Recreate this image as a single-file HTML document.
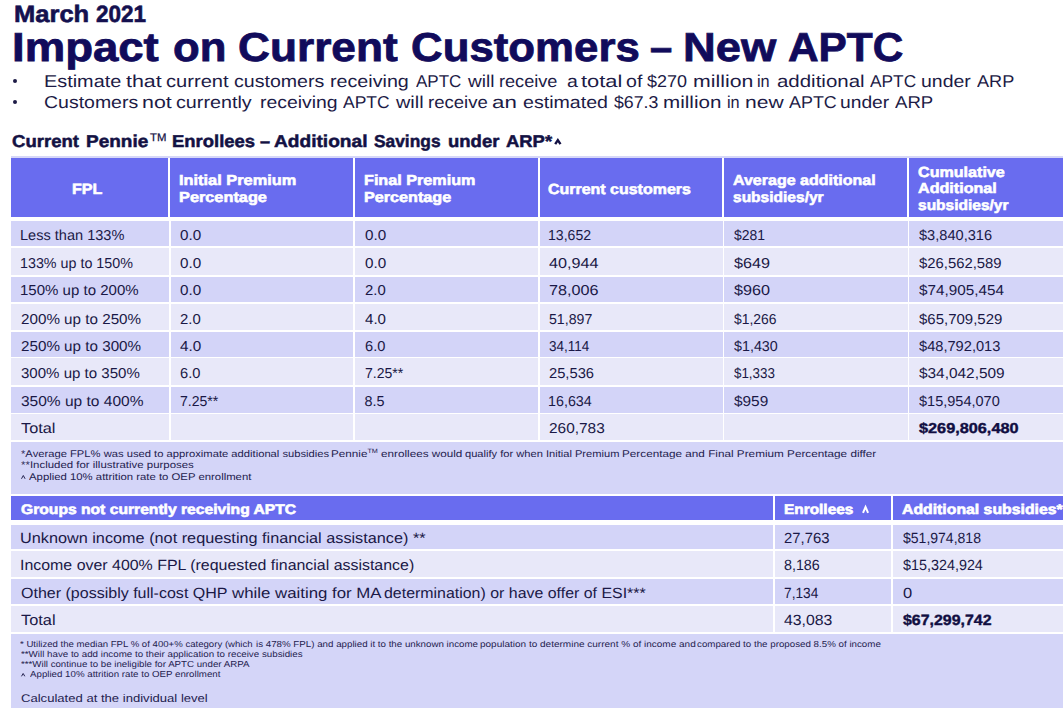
<!DOCTYPE html>
<html><head><meta charset="utf-8"><title>Impact on Current Customers - New APTC</title>
<style>
html,body{margin:0;padding:0;background:#fff;}
body{width:1063px;height:708px;position:relative;overflow:hidden;font-family:"Liberation Sans",sans-serif;}
.r{position:absolute;}
.t{position:absolute;white-space:nowrap;transform-origin:0 0;text-rendering:geometricPrecision;}
sup{font-size:62%;vertical-align:0;position:relative;top:-0.55em;}
.dot{position:absolute;border-radius:50%;}
</style></head><body>

<div class="r" style="left:11.00px;top:155.80px;width:1052.00px;height:2.20px;background:#d6d7f8"></div>
<div class="r" style="left:11.00px;top:158.00px;width:157.30px;height:58.50px;background:#696cef"></div>
<div class="r" style="left:170.20px;top:158.00px;width:182.70px;height:58.50px;background:#696cef"></div>
<div class="r" style="left:355.00px;top:158.00px;width:182.90px;height:58.50px;background:#696cef"></div>
<div class="r" style="left:539.80px;top:158.00px;width:182.20px;height:58.50px;background:#696cef"></div>
<div class="r" style="left:724.20px;top:158.00px;width:182.80px;height:58.50px;background:#696cef"></div>
<div class="r" style="left:909.20px;top:158.00px;width:153.80px;height:58.50px;background:#696cef"></div>
<div class="r" style="left:11.00px;top:221.10px;width:158.20px;height:25.00px;background:#d3d4f8"></div>
<div class="r" style="left:170.60px;top:221.10px;width:182.80px;height:25.00px;background:#d3d4f8"></div>
<div class="r" style="left:354.80px;top:221.10px;width:183.60px;height:25.00px;background:#d3d4f8"></div>
<div class="r" style="left:539.60px;top:221.10px;width:183.00px;height:25.00px;background:#d3d4f8"></div>
<div class="r" style="left:724.00px;top:221.10px;width:183.60px;height:25.00px;background:#d3d4f8"></div>
<div class="r" style="left:909.00px;top:221.10px;width:154.00px;height:25.00px;background:#d3d4f8"></div>
<div class="r" style="left:11.00px;top:247.75px;width:158.20px;height:27.05px;background:#e8e8f9"></div>
<div class="r" style="left:170.60px;top:247.75px;width:182.80px;height:27.05px;background:#e8e8f9"></div>
<div class="r" style="left:354.80px;top:247.75px;width:183.60px;height:27.05px;background:#e8e8f9"></div>
<div class="r" style="left:539.60px;top:247.75px;width:183.00px;height:27.05px;background:#e8e8f9"></div>
<div class="r" style="left:724.00px;top:247.75px;width:183.60px;height:27.05px;background:#e8e8f9"></div>
<div class="r" style="left:909.00px;top:247.75px;width:154.00px;height:27.05px;background:#e8e8f9"></div>
<div class="r" style="left:11.00px;top:277.10px;width:158.20px;height:24.60px;background:#d3d4f8"></div>
<div class="r" style="left:170.60px;top:277.10px;width:182.80px;height:24.60px;background:#d3d4f8"></div>
<div class="r" style="left:354.80px;top:277.10px;width:183.60px;height:24.60px;background:#d3d4f8"></div>
<div class="r" style="left:539.60px;top:277.10px;width:183.00px;height:24.60px;background:#d3d4f8"></div>
<div class="r" style="left:724.00px;top:277.10px;width:183.60px;height:24.60px;background:#d3d4f8"></div>
<div class="r" style="left:909.00px;top:277.10px;width:154.00px;height:24.60px;background:#d3d4f8"></div>
<div class="r" style="left:11.00px;top:303.75px;width:158.20px;height:26.35px;background:#e8e8f9"></div>
<div class="r" style="left:170.60px;top:303.75px;width:182.80px;height:26.35px;background:#e8e8f9"></div>
<div class="r" style="left:354.80px;top:303.75px;width:183.60px;height:26.35px;background:#e8e8f9"></div>
<div class="r" style="left:539.60px;top:303.75px;width:183.00px;height:26.35px;background:#e8e8f9"></div>
<div class="r" style="left:724.00px;top:303.75px;width:183.60px;height:26.35px;background:#e8e8f9"></div>
<div class="r" style="left:909.00px;top:303.75px;width:154.00px;height:26.35px;background:#e8e8f9"></div>
<div class="r" style="left:11.00px;top:332.30px;width:158.20px;height:24.45px;background:#d3d4f8"></div>
<div class="r" style="left:170.60px;top:332.30px;width:182.80px;height:24.45px;background:#d3d4f8"></div>
<div class="r" style="left:354.80px;top:332.30px;width:183.60px;height:24.45px;background:#d3d4f8"></div>
<div class="r" style="left:539.60px;top:332.30px;width:183.00px;height:24.45px;background:#d3d4f8"></div>
<div class="r" style="left:724.00px;top:332.30px;width:183.60px;height:24.45px;background:#d3d4f8"></div>
<div class="r" style="left:909.00px;top:332.30px;width:154.00px;height:24.45px;background:#d3d4f8"></div>
<div class="r" style="left:11.00px;top:358.40px;width:158.20px;height:26.50px;background:#e8e8f9"></div>
<div class="r" style="left:170.60px;top:358.40px;width:182.80px;height:26.50px;background:#e8e8f9"></div>
<div class="r" style="left:354.80px;top:358.40px;width:183.60px;height:26.50px;background:#e8e8f9"></div>
<div class="r" style="left:539.60px;top:358.40px;width:183.00px;height:26.50px;background:#e8e8f9"></div>
<div class="r" style="left:724.00px;top:358.40px;width:183.60px;height:26.50px;background:#e8e8f9"></div>
<div class="r" style="left:909.00px;top:358.40px;width:154.00px;height:26.50px;background:#e8e8f9"></div>
<div class="r" style="left:11.00px;top:387.00px;width:158.20px;height:25.80px;background:#d3d4f8"></div>
<div class="r" style="left:170.60px;top:387.00px;width:182.80px;height:25.80px;background:#d3d4f8"></div>
<div class="r" style="left:354.80px;top:387.00px;width:183.60px;height:25.80px;background:#d3d4f8"></div>
<div class="r" style="left:539.60px;top:387.00px;width:183.00px;height:25.80px;background:#d3d4f8"></div>
<div class="r" style="left:724.00px;top:387.00px;width:183.60px;height:25.80px;background:#d3d4f8"></div>
<div class="r" style="left:909.00px;top:387.00px;width:154.00px;height:25.80px;background:#d3d4f8"></div>
<div class="r" style="left:11.00px;top:414.10px;width:158.20px;height:26.30px;background:#e8e8f9"></div>
<div class="r" style="left:170.60px;top:414.10px;width:182.80px;height:26.30px;background:#e8e8f9"></div>
<div class="r" style="left:354.80px;top:414.10px;width:183.60px;height:26.30px;background:#e8e8f9"></div>
<div class="r" style="left:539.60px;top:414.10px;width:183.00px;height:26.30px;background:#e8e8f9"></div>
<div class="r" style="left:724.00px;top:414.10px;width:183.60px;height:26.30px;background:#e8e8f9"></div>
<div class="r" style="left:909.00px;top:414.10px;width:154.00px;height:26.30px;background:#e8e8f9"></div>
<div class="r" style="left:11.00px;top:442.10px;width:1052.00px;height:51.60px;background:#d4d5f8"></div>
<div class="r" style="left:11.00px;top:495.50px;width:761.50px;height:24.00px;background:#696cef"></div>
<div class="r" style="left:775.00px;top:495.50px;width:115.80px;height:24.00px;background:#696cef"></div>
<div class="r" style="left:893.30px;top:495.50px;width:169.70px;height:24.00px;background:#696cef"></div>
<div class="r" style="left:11.00px;top:524.70px;width:762.00px;height:24.80px;background:#d3d4f8"></div>
<div class="r" style="left:774.60px;top:524.70px;width:116.90px;height:24.80px;background:#d3d4f8"></div>
<div class="r" style="left:893.00px;top:524.70px;width:170.00px;height:24.80px;background:#d3d4f8"></div>
<div class="r" style="left:11.00px;top:551.00px;width:762.00px;height:26.00px;background:#e8e8f9"></div>
<div class="r" style="left:774.60px;top:551.00px;width:116.90px;height:26.00px;background:#e8e8f9"></div>
<div class="r" style="left:893.00px;top:551.00px;width:170.00px;height:26.00px;background:#e8e8f9"></div>
<div class="r" style="left:11.00px;top:579.10px;width:762.00px;height:25.20px;background:#d3d4f8"></div>
<div class="r" style="left:774.60px;top:579.10px;width:116.90px;height:25.20px;background:#d3d4f8"></div>
<div class="r" style="left:893.00px;top:579.10px;width:170.00px;height:25.20px;background:#d3d4f8"></div>
<div class="r" style="left:11.00px;top:606.00px;width:762.00px;height:26.25px;background:#e8e8f9"></div>
<div class="r" style="left:774.60px;top:606.00px;width:116.90px;height:26.25px;background:#e8e8f9"></div>
<div class="r" style="left:893.00px;top:606.00px;width:170.00px;height:26.25px;background:#e8e8f9"></div>
<div class="r" style="left:11.00px;top:634.20px;width:1052.00px;height:73.80px;background:#d4d5f8"></div>
<div class="dot" style="left:12.80px;top:78.60px;width:4.4px;height:4.4px;background:#1d1b46"></div>
<div class="dot" style="left:12.80px;top:99.70px;width:4.4px;height:4.4px;background:#1d1b46"></div>
<svg class="r" style="left:553.90px;top:139.00px;width:7.70px;height:5.20px;overflow:visible" viewBox="0 0 7.70 5.20"><polyline points="1.20,5.20 3.85,1.20 6.50,5.20" fill="none" stroke="#131143" stroke-width="2.40" stroke-linejoin="miter"/></svg>
<svg class="r" style="left:862.30px;top:506.00px;width:7.10px;height:6.80px;overflow:visible" viewBox="0 0 7.10 6.80"><polyline points="1.00,6.80 3.55,1.00 6.10,6.80" fill="none" stroke="#ffffff" stroke-width="2.00" stroke-linejoin="miter"/></svg>
<svg class="r" style="left:20.90px;top:474.60px;width:4.60px;height:3.80px;overflow:visible" viewBox="0 0 4.60 3.80"><polyline points="0.50,3.80 2.30,0.50 4.10,3.80" fill="none" stroke="#24224f" stroke-width="1.00" stroke-linejoin="miter"/></svg>
<svg class="r" style="left:20.80px;top:672.90px;width:4.30px;height:3.30px;overflow:visible" viewBox="0 0 4.30 3.30"><polyline points="0.50,3.30 2.15,0.50 3.80,3.30" fill="none" stroke="#24224f" stroke-width="1.00" stroke-linejoin="miter"/></svg>
<div class="t" id="march_0" style="left:14.09px;top:3.94px;font-size:23.69px;line-height:23.69px;color:#14104f;font-weight:bold;-webkit-text-stroke:0.60px #14104f;transform:scaleX(1.0779);">March</div>
<div class="t" id="march_1" style="left:95.83px;top:3.94px;font-size:23.69px;line-height:23.69px;color:#14104f;font-weight:bold;-webkit-text-stroke:0.60px #14104f;transform:scaleX(0.9500);">2021</div>
<div class="t" id="title_0" style="left:12.47px;top:27.00px;font-size:40.41px;line-height:40.41px;color:#110b5b;font-weight:bold;-webkit-text-stroke:0.80px #110b5b;transform:scaleX(1.1270);">Impact</div>
<div class="t" id="title_1" style="left:172.75px;top:27.00px;font-size:40.41px;line-height:40.41px;color:#110b5b;font-weight:bold;-webkit-text-stroke:0.80px #110b5b;transform:scaleX(1.0809);">on</div>
<div class="t" id="title_2" style="left:237.70px;top:27.00px;font-size:40.41px;line-height:40.41px;color:#110b5b;font-weight:bold;-webkit-text-stroke:0.80px #110b5b;transform:scaleX(1.0945);">Current</div>
<div class="t" id="title_3" style="left:411.33px;top:27.00px;font-size:40.41px;line-height:40.41px;color:#110b5b;font-weight:bold;-webkit-text-stroke:0.80px #110b5b;transform:scaleX(1.0842);">Customers</div>
<div class="t" id="title_4" style="left:650.01px;top:27.00px;font-size:40.41px;line-height:40.41px;color:#110b5b;font-weight:bold;-webkit-text-stroke:0.80px #110b5b;transform:scaleX(0.9881);">&ndash;</div>
<div class="t" id="title_5" style="left:683.18px;top:27.00px;font-size:40.41px;line-height:40.41px;color:#110b5b;font-weight:bold;-webkit-text-stroke:0.80px #110b5b;transform:scaleX(1.1220);">New</div>
<div class="t" id="title_6" style="left:788.18px;top:27.00px;font-size:40.41px;line-height:40.41px;color:#110b5b;font-weight:bold;-webkit-text-stroke:0.80px #110b5b;transform:scaleX(1.0486);">APTC</div>
<div class="t" id="b1_0" style="left:43.76px;top:73.28px;font-size:17.15px;line-height:17.15px;color:#1d1b46;transform:scaleX(1.1585);">Estimate</div>
<div class="t" id="b1_1" style="left:125.65px;top:73.28px;font-size:17.15px;line-height:17.15px;color:#1d1b46;transform:scaleX(1.2500);">that</div>
<div class="t" id="b1_2" style="left:165.83px;top:73.28px;font-size:17.15px;line-height:17.15px;color:#1d1b46;transform:scaleX(1.1736);">current</div>
<div class="t" id="b1_3" style="left:233.86px;top:73.28px;font-size:17.15px;line-height:17.15px;color:#1d1b46;transform:scaleX(1.1423);">customers</div>
<div class="t" id="b1_4" style="left:330.31px;top:73.28px;font-size:17.15px;line-height:17.15px;color:#1d1b46;transform:scaleX(1.1485);">receiving</div>
<div class="t" id="b1_5" style="left:416.20px;top:73.28px;font-size:17.15px;line-height:17.15px;color:#1d1b46;transform:scaleX(0.9935);">APTC</div>
<div class="t" id="b1_6" style="left:468.27px;top:73.28px;font-size:17.15px;line-height:17.15px;color:#1d1b46;transform:scaleX(1.1125);">will</div>
<div class="t" id="b1_7" style="left:499.33px;top:73.28px;font-size:17.15px;line-height:17.15px;color:#1d1b46;transform:scaleX(1.0574);">receive</div>
<div class="t" id="b1_8" style="left:567.03px;top:73.28px;font-size:17.15px;line-height:17.15px;color:#1d1b46;transform:scaleX(1.1366);">a</div>
<div class="t" id="b1_9" style="left:580.54px;top:73.28px;font-size:17.15px;line-height:17.15px;color:#1d1b46;transform:scaleX(1.2781);">total</div>
<div class="t" id="b1_10" style="left:625.93px;top:73.28px;font-size:17.15px;line-height:17.15px;color:#1d1b46;transform:scaleX(1.1429);">of</div>
<div class="t" id="b1_11" style="left:647.21px;top:73.28px;font-size:17.15px;line-height:17.15px;color:#1d1b46;transform:scaleX(1.0500);">$270</div>
<div class="t" id="b1_12" style="left:692.65px;top:73.28px;font-size:17.15px;line-height:17.15px;color:#1d1b46;transform:scaleX(1.2426);">million</div>
<div class="t" id="b1_13" style="left:757.25px;top:73.28px;font-size:17.15px;line-height:17.15px;color:#1d1b46;transform:scaleX(0.9500);">in</div>
<div class="t" id="b1_14" style="left:777.12px;top:73.28px;font-size:17.15px;line-height:17.15px;color:#1d1b46;transform:scaleX(1.1931);">additional</div>
<div class="t" id="b1_15" style="left:870.21px;top:73.28px;font-size:17.15px;line-height:17.15px;color:#1d1b46;transform:scaleX(1.0087);">APTC</div>
<div class="t" id="b1_16" style="left:920.65px;top:73.28px;font-size:17.15px;line-height:17.15px;color:#1d1b46;transform:scaleX(1.1349);">under</div>
<div class="t" id="b1_17" style="left:976.51px;top:73.28px;font-size:17.15px;line-height:17.15px;color:#1d1b46;transform:scaleX(1.0586);">ARP</div>
<div class="t" id="b2_0" style="left:44.15px;top:94.38px;font-size:17.15px;line-height:17.15px;color:#1d1b46;transform:scaleX(1.1366);">Customers</div>
<div class="t" id="b2_1" style="left:141.53px;top:94.38px;font-size:17.15px;line-height:17.15px;color:#1d1b46;transform:scaleX(1.2478);">not</div>
<div class="t" id="b2_2" style="left:176.28px;top:94.38px;font-size:17.15px;line-height:17.15px;color:#1d1b46;transform:scaleX(1.1508);">currently</div>
<div class="t" id="b2_3" style="left:260.15px;top:94.38px;font-size:17.15px;line-height:17.15px;color:#1d1b46;transform:scaleX(1.1309);">receiving</div>
<div class="t" id="b2_4" style="left:343.20px;top:94.38px;font-size:17.15px;line-height:17.15px;color:#1d1b46;transform:scaleX(1.0200);">APTC</div>
<div class="t" id="b2_5" style="left:395.54px;top:94.38px;font-size:17.15px;line-height:17.15px;color:#1d1b46;transform:scaleX(1.1587);">will</div>
<div class="t" id="b2_6" style="left:427.54px;top:94.38px;font-size:17.15px;line-height:17.15px;color:#1d1b46;transform:scaleX(1.0815);">receive</div>
<div class="t" id="b2_7" style="left:491.70px;top:94.38px;font-size:17.15px;line-height:17.15px;color:#1d1b46;transform:scaleX(1.3000);">an</div>
<div class="t" id="b2_8" style="left:522.93px;top:94.38px;font-size:17.15px;line-height:17.15px;color:#1d1b46;transform:scaleX(1.1438);">estimated</div>
<div class="t" id="b2_9" style="left:613.61px;top:94.38px;font-size:17.15px;line-height:17.15px;color:#1d1b46;transform:scaleX(1.0349);">$67.3</div>
<div class="t" id="b2_10" style="left:663.12px;top:94.38px;font-size:17.15px;line-height:17.15px;color:#1d1b46;transform:scaleX(1.2021);">million</div>
<div class="t" id="b2_11" style="left:727.44px;top:94.38px;font-size:17.15px;line-height:17.15px;color:#1d1b46;transform:scaleX(0.9500);">in</div>
<div class="t" id="b2_12" style="left:744.66px;top:94.38px;font-size:17.15px;line-height:17.15px;color:#1d1b46;transform:scaleX(1.2290);">new</div>
<div class="t" id="b2_13" style="left:789.00px;top:94.38px;font-size:17.15px;line-height:17.15px;color:#1d1b46;transform:scaleX(1.0444);">APTC</div>
<div class="t" id="b2_14" style="left:840.09px;top:94.38px;font-size:17.15px;line-height:17.15px;color:#1d1b46;transform:scaleX(1.1233);">under</div>
<div class="t" id="b2_15" style="left:895.37px;top:94.38px;font-size:17.15px;line-height:17.15px;color:#1d1b46;transform:scaleX(1.0853);">ARP</div>
<div class="t" id="sub_0" style="left:12.17px;top:133.28px;font-size:17.15px;line-height:17.15px;color:#131143;font-weight:bold;-webkit-text-stroke:0.50px #131143;transform:scaleX(1.0815);">Current</div>
<div class="t" id="sub_1" style="left:86.37px;top:133.28px;font-size:17.15px;line-height:17.15px;color:#131143;font-weight:bold;-webkit-text-stroke:0.50px #131143;transform:scaleX(1.1071);">Pennie</div>
<div class="t" id="sub_2" style="left:172.34px;top:133.28px;font-size:17.15px;line-height:17.15px;color:#131143;font-weight:bold;-webkit-text-stroke:0.50px #131143;transform:scaleX(1.0763);">Enrollees</div>
<div class="t" id="sub_3" style="left:259.97px;top:133.28px;font-size:17.15px;line-height:17.15px;color:#131143;font-weight:bold;-webkit-text-stroke:0.50px #131143;transform:scaleX(1.0556);">&ndash;</div>
<div class="t" id="sub_4" style="left:274.21px;top:133.28px;font-size:17.15px;line-height:17.15px;color:#131143;font-weight:bold;-webkit-text-stroke:0.50px #131143;transform:scaleX(1.1157);">Additional</div>
<div class="t" id="sub_5" style="left:374.20px;top:133.28px;font-size:17.15px;line-height:17.15px;color:#131143;font-weight:bold;-webkit-text-stroke:0.50px #131143;transform:scaleX(1.0121);">Savings</div>
<div class="t" id="sub_6" style="left:447.58px;top:133.28px;font-size:17.15px;line-height:17.15px;color:#131143;font-weight:bold;-webkit-text-stroke:0.50px #131143;transform:scaleX(1.0792);">under</div>
<div class="t" id="sub_7" style="left:505.76px;top:133.28px;font-size:17.15px;line-height:17.15px;color:#131143;font-weight:bold;-webkit-text-stroke:0.50px #131143;transform:scaleX(1.0744);">ARP*</div>
<div class="t" id="sub_tm" style="left:150.00px;top:133.35px;font-size:11.05px;line-height:11.05px;color:#131143;-webkit-text-stroke:0.25px #131143;transform:scaleX(1.0250);">TM</div>
<div class="t" id="h_fpl" style="left:72.39px;top:182.65px;font-size:14.83px;line-height:14.83px;color:#ffffff;font-weight:bold;-webkit-text-stroke:0.55px #ffffff;transform:scaleX(1.0865);">FPL</div>
<div class="t" id="h_ip1" style="left:178.60px;top:174.10px;font-size:14.53px;line-height:14.53px;color:#ffffff;font-weight:bold;-webkit-text-stroke:0.55px #ffffff;transform:scaleX(1.1275);">Initial Premium</div>
<div class="t" id="h_ip2" style="left:178.60px;top:191.20px;font-size:14.53px;line-height:14.53px;color:#ffffff;font-weight:bold;-webkit-text-stroke:0.55px #ffffff;transform:scaleX(1.1237);">Percentage</div>
<div class="t" id="h_fp1" style="left:363.89px;top:174.10px;font-size:14.53px;line-height:14.53px;color:#ffffff;font-weight:bold;-webkit-text-stroke:0.55px #ffffff;transform:scaleX(1.1143);">Final Premium</div>
<div class="t" id="h_fp2" style="left:363.89px;top:191.20px;font-size:14.53px;line-height:14.53px;color:#ffffff;font-weight:bold;-webkit-text-stroke:0.55px #ffffff;transform:scaleX(1.1143);">Percentage</div>
<div class="t" id="h_cc" style="left:548.32px;top:183.45px;font-size:14.53px;line-height:14.53px;color:#ffffff;font-weight:bold;-webkit-text-stroke:0.55px #ffffff;transform:scaleX(1.1000);">Current customers</div>
<div class="t" id="h_aa1" style="left:733.32px;top:174.10px;font-size:14.53px;line-height:14.53px;color:#ffffff;font-weight:bold;-webkit-text-stroke:0.55px #ffffff;transform:scaleX(1.1031);">Average additional</div>
<div class="t" id="h_aa2" style="left:733.34px;top:191.20px;font-size:14.53px;line-height:14.53px;color:#ffffff;font-weight:bold;-webkit-text-stroke:0.55px #ffffff;transform:scaleX(1.0699);">subsidies/yr</div>
<div class="t" id="h_ca1" style="left:918.31px;top:166.40px;font-size:14.53px;line-height:14.53px;color:#ffffff;font-weight:bold;-webkit-text-stroke:0.55px #ffffff;transform:scaleX(1.1091);">Cumulative</div>
<div class="t" id="h_ca2" style="left:918.31px;top:182.00px;font-size:14.53px;line-height:14.53px;color:#ffffff;font-weight:bold;-webkit-text-stroke:0.55px #ffffff;transform:scaleX(1.1101);">Additional</div>
<div class="t" id="h_ca3" style="left:918.35px;top:198.70px;font-size:14.53px;line-height:14.53px;color:#ffffff;font-weight:bold;-webkit-text-stroke:0.55px #ffffff;transform:scaleX(1.0687);">subsidies/yr</div>
<div class="t" id="r0_0" style="left:20.38px;top:229.47px;font-size:14.39px;line-height:14.39px;color:#1a1846;transform:scaleX(1.0127);">Less than 133%</div>
<div class="t" id="r0_1" style="left:179.59px;top:229.47px;font-size:14.39px;line-height:14.39px;color:#1a1846;transform:scaleX(1.0575);">0.0</div>
<div class="t" id="r0_2" style="left:364.59px;top:229.47px;font-size:14.39px;line-height:14.39px;color:#1a1846;transform:scaleX(1.0600);">0.0</div>
<div class="t" id="r0_3" style="left:547.62px;top:229.47px;font-size:14.39px;line-height:14.39px;color:#1a1846;transform:scaleX(0.9810);">13,652</div>
<div class="t" id="r0_4" style="left:734.01px;top:229.47px;font-size:14.39px;line-height:14.39px;color:#1a1846;transform:scaleX(0.9710);">$281</div>
<div class="t" id="r0_5" style="left:918.80px;top:229.47px;font-size:14.39px;line-height:14.39px;color:#1a1846;transform:scaleX(1.0155);">$3,840,316</div>
<div class="t" id="r1_0" style="left:20.41px;top:256.62px;font-size:14.39px;line-height:14.39px;color:#1a1846;transform:scaleX(0.9946);">133% up to 150%</div>
<div class="t" id="r1_1" style="left:179.59px;top:256.62px;font-size:14.39px;line-height:14.39px;color:#1a1846;transform:scaleX(1.0575);">0.0</div>
<div class="t" id="r1_2" style="left:364.59px;top:256.62px;font-size:14.39px;line-height:14.39px;color:#1a1846;transform:scaleX(1.0600);">0.0</div>
<div class="t" id="r1_3" style="left:548.57px;top:256.62px;font-size:14.39px;line-height:14.39px;color:#1a1846;transform:scaleX(1.1273);">40,944</div>
<div class="t" id="r1_4" style="left:733.94px;top:256.62px;font-size:14.39px;line-height:14.39px;color:#1a1846;transform:scaleX(1.1258);">$649</div>
<div class="t" id="r1_5" style="left:918.80px;top:256.62px;font-size:14.39px;line-height:14.39px;color:#1a1846;transform:scaleX(1.0329);">$26,562,589</div>
<div class="t" id="r2_0" style="left:20.34px;top:284.22px;font-size:14.39px;line-height:14.39px;color:#1a1846;transform:scaleX(1.0451);">150% up to 200%</div>
<div class="t" id="r2_1" style="left:179.59px;top:284.22px;font-size:14.39px;line-height:14.39px;color:#1a1846;transform:scaleX(1.0575);">0.0</div>
<div class="t" id="r2_2" style="left:364.59px;top:284.22px;font-size:14.39px;line-height:14.39px;color:#1a1846;transform:scaleX(1.0350);">2.0</div>
<div class="t" id="r2_3" style="left:548.57px;top:284.22px;font-size:14.39px;line-height:14.39px;color:#1a1846;transform:scaleX(1.1256);">78,006</div>
<div class="t" id="r2_4" style="left:733.94px;top:284.22px;font-size:14.39px;line-height:14.39px;color:#1a1846;transform:scaleX(1.1258);">$960</div>
<div class="t" id="r2_5" style="left:918.79px;top:284.22px;font-size:14.39px;line-height:14.39px;color:#1a1846;transform:scaleX(1.0619);">$74,905,454</div>
<div class="t" id="r3_0" style="left:21.38px;top:312.52px;font-size:14.39px;line-height:14.39px;color:#1a1846;transform:scaleX(1.0580);">200% up to 250%</div>
<div class="t" id="r3_1" style="left:179.59px;top:312.52px;font-size:14.39px;line-height:14.39px;color:#1a1846;transform:scaleX(1.0350);">2.0</div>
<div class="t" id="r3_2" style="left:364.59px;top:312.52px;font-size:14.39px;line-height:14.39px;color:#1a1846;transform:scaleX(1.0500);">4.0</div>
<div class="t" id="r3_3" style="left:548.60px;top:312.52px;font-size:14.39px;line-height:14.39px;color:#1a1846;transform:scaleX(0.9837);">51,897</div>
<div class="t" id="r3_4" style="left:734.02px;top:312.52px;font-size:14.39px;line-height:14.39px;color:#1a1846;transform:scaleX(0.9686);">$1,266</div>
<div class="t" id="r3_5" style="left:918.80px;top:312.52px;font-size:14.39px;line-height:14.39px;color:#1a1846;transform:scaleX(1.0424);">$65,709,529</div>
<div class="t" id="r4_0" style="left:21.38px;top:340.37px;font-size:14.39px;line-height:14.39px;color:#1a1846;transform:scaleX(1.0580);">250% up to 300%</div>
<div class="t" id="r4_1" style="left:179.59px;top:340.37px;font-size:14.39px;line-height:14.39px;color:#1a1846;transform:scaleX(1.0600);">4.0</div>
<div class="t" id="r4_2" style="left:364.60px;top:340.37px;font-size:14.39px;line-height:14.39px;color:#1a1846;transform:scaleX(1.0200);">6.0</div>
<div class="t" id="r4_3" style="left:548.61px;top:340.37px;font-size:14.39px;line-height:14.39px;color:#1a1846;transform:scaleX(0.9372);">34,114</div>
<div class="t" id="r4_4" style="left:734.00px;top:340.37px;font-size:14.39px;line-height:14.39px;color:#1a1846;transform:scaleX(0.9953);">$1,430</div>
<div class="t" id="r4_5" style="left:918.80px;top:340.37px;font-size:14.39px;line-height:14.39px;color:#1a1846;transform:scaleX(1.0177);">$48,792,013</div>
<div class="t" id="r5_0" style="left:21.39px;top:367.17px;font-size:14.39px;line-height:14.39px;color:#1a1846;transform:scaleX(1.0469);">300% up to 350%</div>
<div class="t" id="r5_1" style="left:179.60px;top:367.17px;font-size:14.39px;line-height:14.39px;color:#1a1846;transform:scaleX(1.0200);">6.0</div>
<div class="t" id="r5_2" style="left:364.60px;top:367.17px;font-size:14.39px;line-height:14.39px;color:#1a1846;transform:scaleX(0.9769);">7.25**</div>
<div class="t" id="r5_3" style="left:548.60px;top:367.17px;font-size:14.39px;line-height:14.39px;color:#1a1846;transform:scaleX(1.0233);">25,536</div>
<div class="t" id="r5_4" style="left:734.03px;top:367.17px;font-size:14.39px;line-height:14.39px;color:#1a1846;transform:scaleX(0.9302);">$1,333</div>
<div class="t" id="r5_5" style="left:918.79px;top:367.17px;font-size:14.39px;line-height:14.39px;color:#1a1846;transform:scaleX(1.0709);">$34,042,509</div>
<div class="t" id="r6_0" style="left:21.38px;top:395.32px;font-size:14.39px;line-height:14.39px;color:#1a1846;transform:scaleX(1.0788);">350% up to 400%</div>
<div class="t" id="r6_1" style="left:179.60px;top:395.32px;font-size:14.39px;line-height:14.39px;color:#1a1846;transform:scaleX(0.9769);">7.25**</div>
<div class="t" id="r6_2" style="left:364.60px;top:395.32px;font-size:14.39px;line-height:14.39px;color:#1a1846;">8.5</div>
<div class="t" id="r6_3" style="left:547.61px;top:395.32px;font-size:14.39px;line-height:14.39px;color:#1a1846;transform:scaleX(0.9953);">16,634</div>
<div class="t" id="r6_4" style="left:733.96px;top:395.32px;font-size:14.39px;line-height:14.39px;color:#1a1846;transform:scaleX(1.0710);">$959</div>
<div class="t" id="r6_5" style="left:918.80px;top:395.32px;font-size:14.39px;line-height:14.39px;color:#1a1846;transform:scaleX(1.0100);">$15,954,070</div>
<div class="t" id="r7_0" style="left:21.36px;top:422.27px;font-size:14.39px;line-height:14.39px;color:#1a1846;transform:scaleX(1.1345);">Total</div>
<div class="t" id="r7_3" style="left:548.59px;top:422.27px;font-size:14.39px;line-height:14.39px;color:#1a1846;transform:scaleX(1.0725);">260,783</div>
<div class="t" id="r7_5" style="left:918.79px;top:422.27px;font-size:14.39px;line-height:14.39px;color:#110e42;font-weight:bold;-webkit-text-stroke:0.40px #110e42;transform:scaleX(1.1318);">$269,806,480</div>
<div class="t" id="f1_1" style="left:20.57px;top:460.96px;font-size:9.74px;line-height:9.74px;color:#24224f;transform:scaleX(1.1741);">**Included for illustrative purposes</div>
<div class="t" id="f1_2" style="left:29.22px;top:473.36px;font-size:9.74px;line-height:9.74px;color:#24224f;transform:scaleX(1.1654);">Applied 10% attrition rate to OEP enrollment</div>
<div class="t" id="f1c_0" style="left:20.57px;top:449.56px;font-size:9.74px;line-height:9.74px;color:#24224f;transform:scaleX(1.1513);">*Average FPL% was used to approximate additional subsidies</div>
<div class="t" id="f1c_1" style="left:331.12px;top:449.56px;font-size:9.74px;line-height:9.74px;color:#24224f;transform:scaleX(1.2009);">Pennie<sup>TM</sup> enrollees would</div>
<div class="t" id="f1c_2" style="left:465.00px;top:449.56px;font-size:9.74px;line-height:9.74px;color:#24224f;transform:scaleX(1.1415);">qualify for when Initial Premium</div>
<div class="t" id="f1c_3" style="left:621.79px;top:449.56px;font-size:9.74px;line-height:9.74px;color:#24224f;transform:scaleX(1.2060);">Percentage and Final Premium Percentage differ</div>
<div class="t" id="h2_g" style="left:20.58px;top:502.59px;font-size:13.95px;line-height:13.95px;color:#ffffff;font-weight:bold;-webkit-text-stroke:0.60px #ffffff;transform:scaleX(1.1230);">Groups not currently receiving APTC</div>
<div class="t" id="h2_e" style="left:783.90px;top:502.59px;font-size:13.95px;line-height:13.95px;color:#ffffff;font-weight:bold;-webkit-text-stroke:0.60px #ffffff;transform:scaleX(1.1049);">Enrollees</div>
<div class="t" id="h2_a" style="left:901.87px;top:502.59px;font-size:13.95px;line-height:13.95px;color:#ffffff;font-weight:bold;-webkit-text-stroke:0.60px #ffffff;transform:scaleX(1.1336);">Additional subsidies*</div>
<div class="t" id="s0_0" style="left:20.28px;top:532.30px;font-size:14.83px;line-height:14.83px;color:#1a1846;transform:scaleX(1.0959);">Unknown income (not requesting financial assistance) **</div>
<div class="t" id="s0_1" style="left:784.00px;top:532.30px;font-size:14.83px;line-height:14.83px;color:#1a1846;transform:scaleX(1.0023);">27,763</div>
<div class="t" id="s0_2" style="left:902.81px;top:532.30px;font-size:14.83px;line-height:14.83px;color:#1a1846;transform:scaleX(0.9451);">$51,974,818</div>
<div class="t" id="s1_0" style="left:20.30px;top:559.25px;font-size:14.83px;line-height:14.83px;color:#1a1846;transform:scaleX(1.0740);">Income over 400% FPL (requested financial assistance)</div>
<div class="t" id="s1_1" style="left:784.02px;top:559.25px;font-size:14.83px;line-height:14.83px;color:#1a1846;transform:scaleX(0.9639);">8,186</div>
<div class="t" id="s1_2" style="left:902.80px;top:559.25px;font-size:14.83px;line-height:14.83px;color:#1a1846;transform:scaleX(0.9683);">$15,324,924</div>
<div class="t" id="s2_1" style="left:784.04px;top:587.05px;font-size:14.83px;line-height:14.83px;color:#1a1846;transform:scaleX(0.9250);">7,134</div>
<div class="t" id="s2_2" style="left:902.79px;top:587.05px;font-size:14.83px;line-height:14.83px;color:#1a1846;transform:scaleX(1.1125);">0</div>
<div class="t" id="s3_0" style="left:21.37px;top:614.15px;font-size:14.83px;line-height:14.83px;color:#1a1846;transform:scaleX(1.1033);">Total</div>
<div class="t" id="s3_1" style="left:783.97px;top:614.15px;font-size:14.83px;line-height:14.83px;color:#1a1846;transform:scaleX(1.0648);">43,083</div>
<div class="t" id="s3_2" style="left:902.79px;top:614.15px;font-size:14.83px;line-height:14.83px;color:#110e42;font-weight:bold;-webkit-text-stroke:0.40px #110e42;transform:scaleX(1.0732);">$67,299,742</div>
<div class="t" id="s2c_0" style="left:21.00px;top:587.05px;font-size:14.83px;line-height:14.83px;color:#1a1846;transform:scaleX(1.0801);">Other (possibly full-cost QHP</div>
<div class="t" id="s2c_1" style="left:231.79px;top:587.05px;font-size:14.83px;line-height:14.83px;color:#1a1846;transform:scaleX(1.1341);">while waiting for MA</div>
<div class="t" id="s2c_2" style="left:384.17px;top:587.05px;font-size:14.83px;line-height:14.83px;color:#1a1846;transform:scaleX(1.0737);">determination) or have offer of ESI***</div>
<div class="t" id="f2_1" style="left:20.58px;top:650.32px;font-size:8.72px;line-height:8.72px;color:#24224f;transform:scaleX(1.1195);">**Will have to add income to their application to receive subsidies</div>
<div class="t" id="f2_2" style="left:20.58px;top:660.32px;font-size:8.72px;line-height:8.72px;color:#24224f;transform:scaleX(1.1122);">***Will continue to be ineligible for APTC under ARPA</div>
<div class="t" id="f2_3" style="left:30.00px;top:670.22px;font-size:8.72px;line-height:8.72px;color:#24224f;transform:scaleX(1.1140);">Applied 10% attrition rate to OEP enrollment</div>
<div class="t" id="f2c_0" style="left:20.16px;top:640.32px;font-size:8.72px;line-height:8.72px;color:#24224f;transform:scaleX(1.1014);">* Utilized the median FPL % of 400+% category (which</div>
<div class="t" id="f2c_1" style="left:255.52px;top:640.32px;font-size:8.72px;line-height:8.72px;color:#24224f;transform:scaleX(1.1172);">is 478% FPL) and applied it to the unknown income</div>
<div class="t" id="f2c_2" style="left:480.14px;top:640.32px;font-size:8.72px;line-height:8.72px;color:#24224f;transform:scaleX(1.1471);">population to determine current % of income and</div>
<div class="t" id="f2c_3" style="left:696.94px;top:640.32px;font-size:8.72px;line-height:8.72px;color:#24224f;transform:scaleX(1.1189);">compared to the proposed 8.5% of income</div>
<div class="t" id="calc" style="left:20.57px;top:694.28px;font-size:11.19px;line-height:11.19px;color:#24224f;transform:scaleX(1.1686);">Calculated at the individual level</div>
</body></html>
